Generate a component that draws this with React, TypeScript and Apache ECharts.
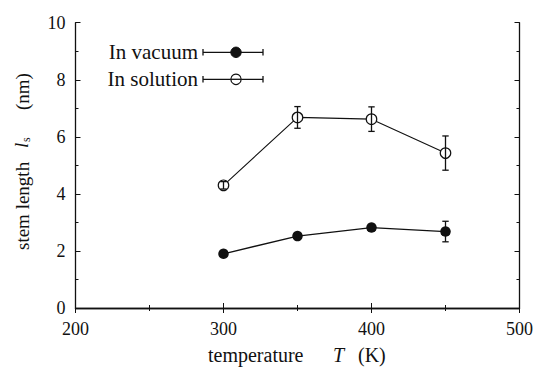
import React, { useEffect, useRef } from "react";
import * as echarts from "echarts";

const temps = [300, 350, 400, 450];
const vacuum = [1.9, 2.52, 2.82, 2.68];
const vacuumErr = [0.08, 0.08, 0.1, 0.36];
const solution = [4.3, 6.68, 6.62, 5.43];
const solutionErr = [0.13, 0.38, 0.43, 0.6];
const xTicks = [200, 300, 400, 500];
const yTicks = [0, 2, 4, 6, 8, 10];

const FONT = "Liberation Serif";
const INK = "#111";

function errorSeries(name: string, vals: number[], errs: number[]) {
  return {
    type: "custom",
    name,
    z: 5,
    data: temps.map((t, i) => [t, vals[i] - errs[i], vals[i] + errs[i]]),
    renderItem: (params: any, api: any) => {
      const x = api.value(0);
      const lo = api.coord([x, api.value(1)]);
      const hi = api.coord([x, api.value(2)]);
      const w = 3.2;
      const style = { stroke: INK, lineWidth: 1.3 };
      return {
        type: "group",
        children: [
          { type: "line", shape: { x1: lo[0], y1: lo[1], x2: hi[0], y2: hi[1] }, style },
          { type: "line", shape: { x1: lo[0] - w, y1: lo[1], x2: lo[0] + w, y2: lo[1] }, style },
          { type: "line", shape: { x1: hi[0] - w, y1: hi[1], x2: hi[0] + w, y2: hi[1] }, style },
        ],
      };
    },
  };
}

function txt(text: string, x: number, y: number, size: number, opts: any = {}) {
  return {
    type: "text",
    x,
    y,
    rotation: opts.rotation || 0,
    style: {
      text,
      font: `${opts.italic ? "italic " : ""}${size}px '${FONT}'`,
      fill: INK,
      textAlign: opts.align || "left",
      textVerticalAlign: "middle",
    },
  };
}

function legendItem(label: string, y: number, filled: boolean) {
  const style = { stroke: INK, lineWidth: 1.3 };
  const x1 = 203;
  const x2 = 263;
  const xm = 236;
  return [
    txt(label, 198, y, 21, { align: "right" }),
    { type: "line", shape: { x1, y1: y, x2, y2: y }, style },
    { type: "line", shape: { x1, y1: y - 3.2, x2: x1, y2: y + 3.2 }, style },
    { type: "line", shape: { x1: x2, y1: y - 3.2, x2, y2: y + 3.2 }, style },
    {
      type: "circle",
      shape: { cx: xm, cy: y, r: 5.2 },
      style: filled ? { fill: INK, stroke: INK, lineWidth: 1 } : { fill: "#fff", stroke: INK, lineWidth: 1.2 },
      z: 10,
    },
    ...(filled ? [] : [{ type: "line", shape: { x1: xm - 5, y1: y, x2: xm + 5, y2: y }, style, z: 11 }]),
  ];
}

export default function App() {
  const ref = useRef<HTMLDivElement>(null);
  useEffect(() => {
    if (!ref.current) return;
    const chart = echarts.init(ref.current, undefined, { renderer: "svg" });
    const axisCommon = {
      axisLine: { show: true, lineStyle: { color: INK, width: 1.3 } },
      axisTick: { show: true, inside: true, length: 5, lineStyle: { color: INK, width: 1 } },
      minorTick: { show: true, splitNumber: 2, length: 3, lineStyle: { color: INK, width: 1 } },
      splitLine: { show: false },
    };
    const xBase = { type: "value", min: 200, max: 500, interval: 100, ...axisCommon };
    const yBase = { type: "value", min: 0, max: 10, interval: 2, ...axisCommon };
    chart.setOption({
      animation: false,
      backgroundColor: "#fff",
      grid: { left: 75.5, right: 17.5, top: 22.7, bottom: 60 },
      xAxis: [
        {
          ...xBase,
          position: "bottom",
          axisLabel: {
            margin: 12,
            fontFamily: FONT,
            fontSize: 18,
            color: INK,
            formatter: (v: number) => (xTicks.includes(v) ? String(v) : ""),
          },
        },
        { ...xBase, position: "top", axisLabel: { show: false } },
      ],
      yAxis: [
        {
          ...yBase,
          position: "left",
          axisLabel: {
            margin: 10,
            fontFamily: FONT,
            fontSize: 18,
            color: INK,
            formatter: (v: number) => (yTicks.includes(v) ? String(v) : ""),
          },
        },
        { ...yBase, position: "right", axisLabel: { show: false } },
      ],
      graphic: [
        txt("temperature", 208, 355, 20),
        txt("T", 333, 355, 20, { italic: true }),
        txt("(K)", 358, 355, 20),
        txt("stem length", 22, 250, 19, { rotation: Math.PI / 2 }),
        txt("l", 21, 148, 19, { rotation: Math.PI / 2, italic: true }),
        txt("s", 26, 142, 12, { rotation: Math.PI / 2 }),
        txt("(nm)", 22, 110, 19, { rotation: Math.PI / 2 }),
        ...legendItem("In vacuum", 52.3, true),
        ...legendItem("In solution", 79.3, false),
      ],
      series: [
        {
          type: "line",
          name: "In vacuum",
          data: temps.map((t, i) => [t, vacuum[i]]),
          symbol: "circle",
          symbolSize: 10.5,
          lineStyle: { color: INK, width: 1.3 },
          itemStyle: { color: INK },
          z: 3,
        },
        {
          type: "line",
          name: "In solution",
          data: temps.map((t, i) => [t, solution[i]]),
          symbol: "circle",
          symbolSize: 10.5,
          lineStyle: { color: INK, width: 1.1 },
          itemStyle: { color: "#fff", borderColor: INK, borderWidth: 1.2 },
          z: 3,
        },
        errorSeries("vacuum err", vacuum, vacuumErr),
        errorSeries("solution err", solution, solutionErr),
      ],
    });
    return () => chart.dispose();
  }, []);
  return <div ref={ref} style={{ width: 537, height: 368, position: "absolute", left: 0, top: 0 }} />;
}
